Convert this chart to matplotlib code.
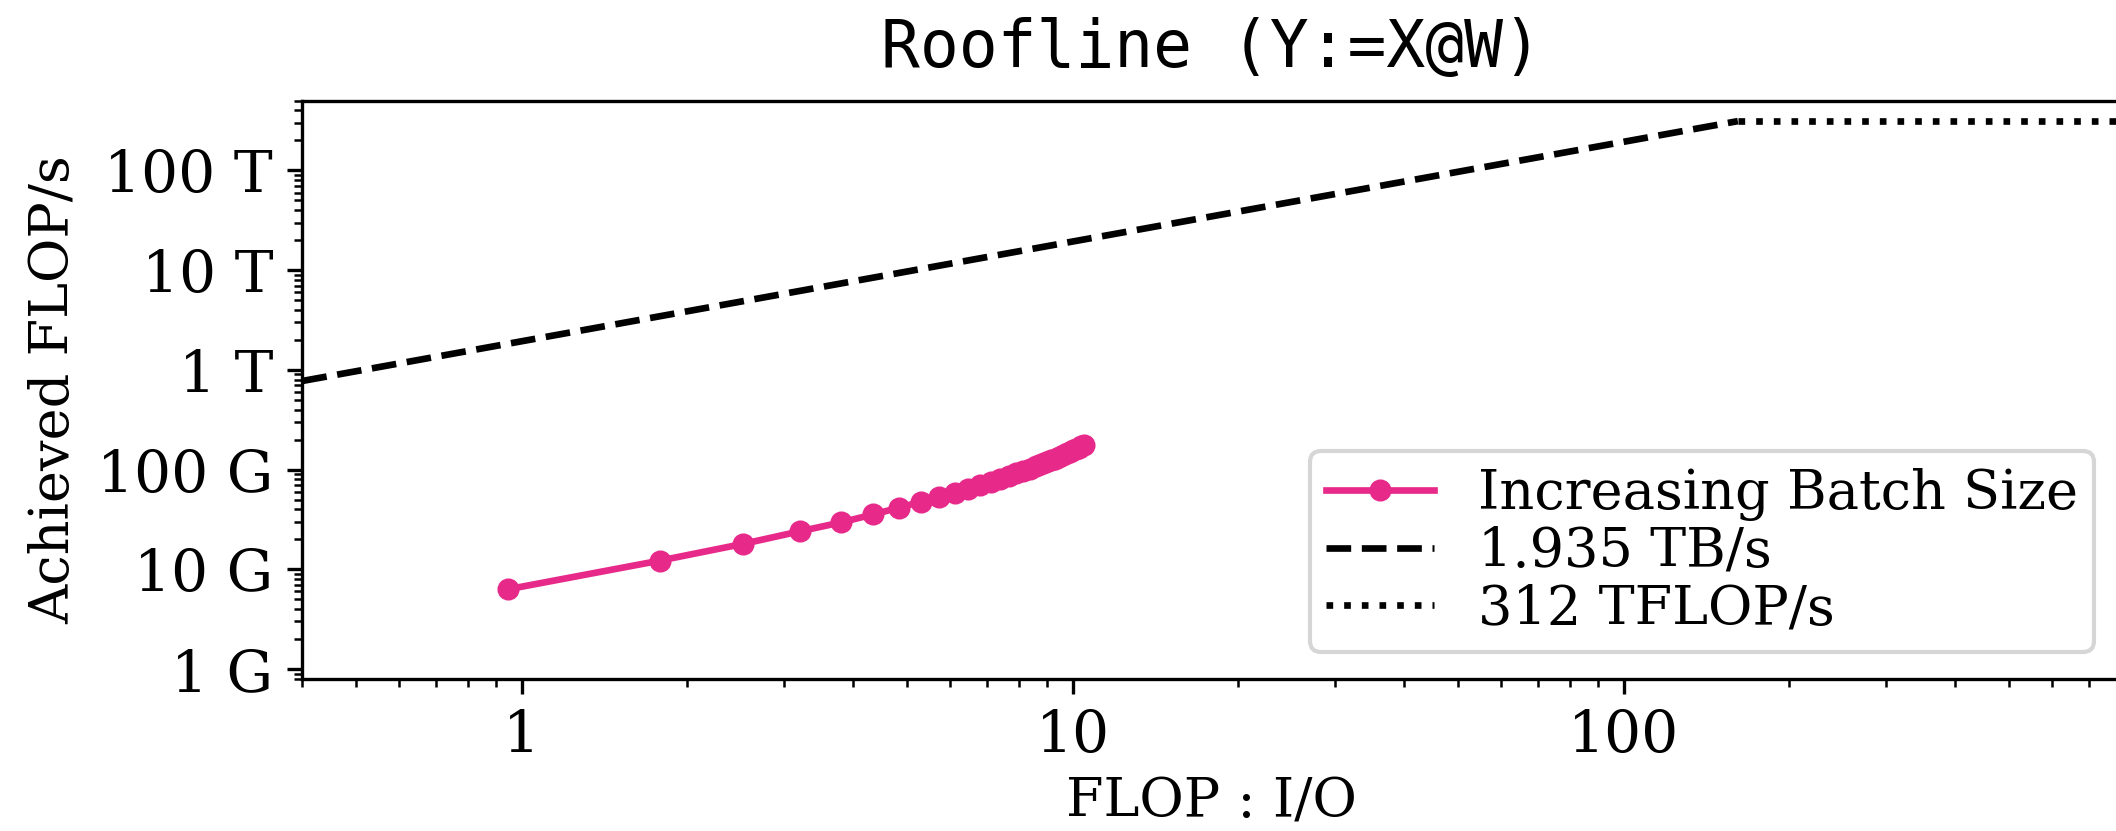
import matplotlib
matplotlib.use('Agg')
import matplotlib.pyplot as plt
from matplotlib.ticker import EngFormatter, FormatStrFormatter, LogLocator

plt.rcParams['font.family'] = 'DejaVu Serif'
plt.rcParams['font.size'] = 13

# batch size sweep, B = 1..32
intensity = [0.944, 1.780, 2.526, 3.195, 3.798, 4.346, 4.844, 5.301,
             5.720, 6.106, 6.463, 6.794, 7.101, 7.388, 7.656, 7.907,
             8.143, 8.364, 8.573, 8.770, 8.956, 9.132, 9.299, 9.457,
             9.608, 9.751, 9.888, 10.019, 10.143, 10.262, 10.376, 10.485]
achieved_gflops = [6.3, 12.2, 18.0, 24.0, 29.5, 35.5, 41.5, 47.5,
                   53.0, 58.5, 64.0, 69.5, 75.0, 80.5, 86.0, 91.5,
                   97.0, 102.0, 107.5, 113.0, 118.0, 123.5, 129.0, 134.0,
                   139.5, 145.0, 150.0, 155.5, 161.0, 166.0, 171.0, 176.0]

mem_bw = 1.935e12      # bytes/s
peak_flops = 312e12    # FLOP/s
x_lim = (0.4, 800)
y_lim = (8e8, 5e14)

ridge = peak_flops / mem_bw

fig = plt.figure(figsize=(2116 / 300, 831 / 300), dpi=300)
ax = fig.add_axes([0.1429, 0.1833, 0.8595, 0.6955])
ax.spines['right'].set_visible(False)

ax.plot(intensity, [g * 1e9 for g in achieved_gflops], color='#e7298a',
        marker='o', markersize=4.3, linewidth=1.6, label='Increasing Batch Size')
ax.plot([x_lim[0], ridge], [x_lim[0] * mem_bw, ridge * mem_bw],
        color='black', linestyle='--', linewidth=1.6, label='1.935 TB/s')
ax.plot([ridge, x_lim[1]], [peak_flops, peak_flops],
        color='black', linestyle=':', linewidth=1.6, label='312 TFLOP/s')

ax.set_xscale('log')
ax.set_yscale('log')
ax.set_xlim(*x_lim)
ax.set_ylim(*y_lim)
ax.yaxis.set_major_locator(LogLocator(base=10, numticks=20))
ax.yaxis.set_minor_locator(LogLocator(base=10, subs='auto', numticks=20))
ax.xaxis.set_major_formatter(FormatStrFormatter('%g'))
ax.yaxis.set_major_formatter(EngFormatter())
ax.tick_params(which='major', labelsize=14)
ax.set_xlabel('FLOP : I/O', labelpad=3)
ax.set_ylabel('Achieved FLOP/s')
ax.set_title('Roofline (Y:=X@W)', family='DejaVu Sans Mono', fontsize=15.5, pad=8)
ax.legend(loc='lower right', fontsize=13, labelspacing=0.1, borderpad=0.3)

fig.savefig('out.png', dpi=300)
